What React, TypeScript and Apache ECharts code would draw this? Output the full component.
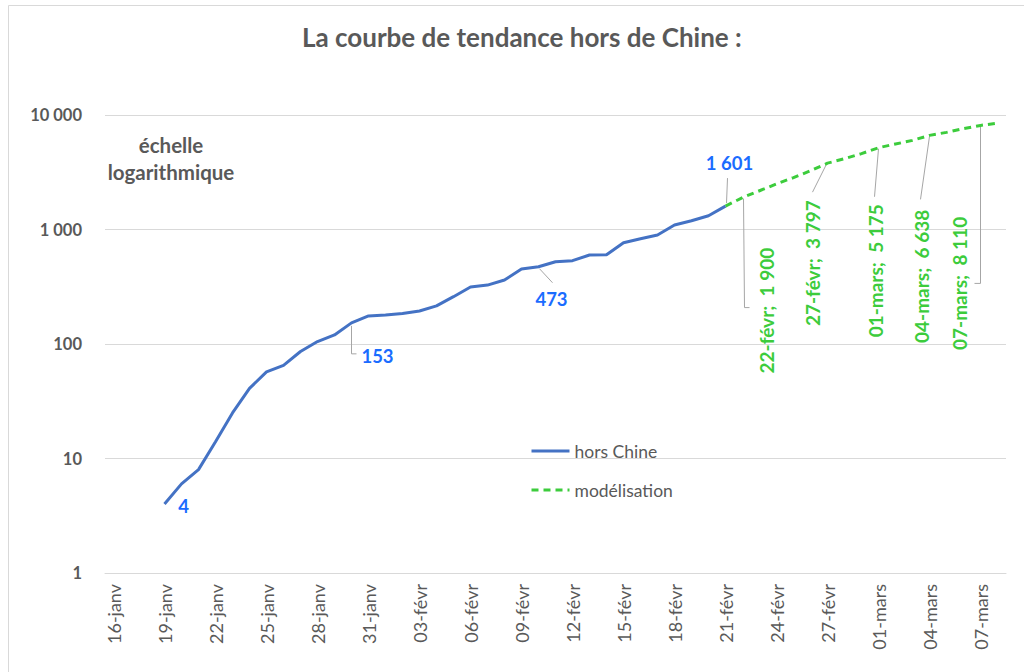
import React, { useEffect, useRef } from "react";
import * as echarts from "echarts";

const categories = [
  "16-janv", "17-janv", "18-janv", "19-janv", "20-janv", "21-janv", "22-janv", "23-janv",
  "24-janv", "25-janv", "26-janv", "27-janv", "28-janv", "29-janv", "30-janv", "31-janv",
  "01-févr", "02-févr", "03-févr", "04-févr", "05-févr", "06-févr", "07-févr", "08-févr",
  "09-févr", "10-févr", "11-févr", "12-févr", "13-févr", "14-févr", "15-févr", "16-févr",
  "17-févr", "18-févr", "19-févr", "20-févr", "21-févr", "22-févr", "23-févr", "24-févr",
  "25-févr", "26-févr", "27-févr", "28-févr", "29-févr", "01-mars", "02-mars", "03-mars",
  "04-mars", "05-mars", "06-mars", "07-mars", "08-mars",
];

// hors Chine (observed) 16-janv .. 08-mars
const horsChine: (number | null)[] = [
  null, null, null,
  4, 6, 8, 14, 25, 41, 57, 65, 86, 105, 120, 153, 176,
  179, 185, 194, 215, 259, 315, 327, 362, 452, 473, 523, 534, 599, 601, 767, 831, 896, 1094, 1193, 1320, 1601,
  null, null, null, null, null, null, null, null, null, null, null, null, null, null, null, null,
];

// modélisation 16-janv .. 08-mars
const modelisation: (number | null)[] = [
  null, null, null, null, null, null, null, null, null, null, null, null, null, null, null, null,
  null, null, null, null, null, null, null, null, null, null, null, null, null, null, null, null,
  null, null, null, null,
  1601, 1900, 2180, 2500, 2840, 3260, 3797, 4150, 4600, 5175, 5580, 6000, 6638, 7050, 7600, 8110, 8480,
];

const yTicks = [1, 10, 100, 1000, 10000];

const blueLabelDates = ["19-janv", "30-janv", "10-févr", "21-févr"];
const greenLabelDates = ["22-févr", "27-févr", "01-mars", "04-mars", "07-mars"];

const FONT = "Lato, 'Open Sans', sans-serif";
const GREY = "#595959";
const BLUE = "#4472c4";
const BLUE_LABEL = "#1a6cff";
const GREEN = "#3ccc3c";
const LEADER = "#a6a6a6";

function fmt(v: number): string {
  return String(Math.round(v)).replace(/\B(?=(\d{3})+(?!\d))/g, " ");
}

// label layout (offsets relative to the point, in px)
const blueLayout: Record<string, { dx: number; dy: number; leader: number[][] | null }> = {
  "19-janv": { dx: 19, dy: 2, leader: null },
  "30-janv": { dx: 26, dy: 33, leader: [[0, 3], [0, 31], [5, 31]] },
  "10-févr": { dx: 13, dy: 32, leader: [[1, 2], [14, 16]] },
  "21-févr": { dx: 4, dy: -43, leader: [[1, -3], [2, -28]] },
};
const greenLayout: Record<string, { dx: number; dy: number; leader: number[][] }> = {
  "22-févr": { dx: 24, dy: 113, leader: [[1, 1], [2, 110], [7, 110]] },
  "27-févr": { dx: -15, dy: 100, leader: [[-1, 1], [-15, 29]] },
  "01-mars": { dx: -3, dy: 123, leader: [[0, 1], [-4, 49]] },
  "04-mars": { dx: -8, dy: 141, leader: [[0, 1], [-9, 64]] },
  "07-mars": { dx: -21, dy: 158, leader: [[0, 1], [0, 158], [-6, 158]] },
};

export default function App() {
  const ref = useRef<HTMLDivElement>(null);

  useEffect(() => {
    if (!ref.current) return;
    const chart = echarts.init(ref.current, undefined, { renderer: "svg" });
    const option: any = {
      animation: false,
      backgroundColor: "#ffffff",
      title: {
        text: "La courbe de tendance hors de Chine :",
        left: 297,
        top: 19,
        textStyle: { fontFamily: FONT, fontSize: 26, fontWeight: "bold", color: GREY },
      },
      legend: {
        orient: "vertical",
        left: 525,
        top: 437,
        itemWidth: 38,
        itemHeight: 16,
        itemGap: 21,
        itemStyle: { opacity: 0 },
        lineStyle: { width: 3 },
        textStyle: { fontFamily: FONT, fontSize: 17.5, color: GREY },
        data: ["hors Chine", "modélisation"],
      },
      grid: { left: 105, right: 18, top: 115, bottom: 99, containLabel: false },
      xAxis: {
        type: "category",
        data: categories,
        boundaryGap: true,
        axisLine: { lineStyle: { color: "#d9d9d9", width: 1 } },
        axisTick: { interval: 2, length: 5, lineStyle: { color: "#d9d9d9" } },
        axisLabel: {
          interval: 2,
          rotate: 90,
          margin: 11,
          fontFamily: FONT,
          fontSize: 18,
          color: GREY,
        },
        splitLine: { show: false },
      },
      yAxis: {
        type: "log",
        logBase: 10,
        min: yTicks[0],
        max: yTicks[yTicks.length - 1],
        axisLine: { show: false },
        axisTick: { show: false },
        axisLabel: {
          margin: 23,
          fontFamily: FONT,
          fontSize: 16.5,
          fontWeight: "bold",
          color: GREY,
          formatter: (v: number) => fmt(v),
        },
        splitLine: { lineStyle: { color: "#d9d9d9", width: 1 } },
      },
      series: [
        {
          name: "hors Chine",
          type: "line",
          data: horsChine,
          symbol: "none",
          connectNulls: false,
          lineStyle: { color: BLUE, width: 3 },
          itemStyle: { color: BLUE },
          z: 3,
        },
        {
          name: "modélisation",
          type: "line",
          data: modelisation,
          symbol: "none",
          connectNulls: false,
          lineStyle: { color: GREEN, width: 3, type: [7, 5] },
          itemStyle: { color: GREEN },
          z: 2,
        },
      ],
    };
    chart.setOption(option);

    const graphics: any[] = [];
    graphics.push({
      type: "rect",
      shape: { x: 8.5, y: 5.5, width: 1100, height: 700 },
      style: { fill: "none", stroke: "#d9d9d9", lineWidth: 1 },
      silent: true,
      z: -1,
    });
    graphics.push({
      type: "text",
      x: 171,
      y: 158,
      style: {
        text: "échelle\nlogarithmique",
        font: `bold 20.5px ${FONT}`,
        fill: GREY,
        align: "center",
        verticalAlign: "middle",
        lineHeight: 27,
      },
    });

    const addLeader = (p: number[], pts: number[][]) => {
      graphics.push({
        type: "polyline",
        shape: { points: pts.map((q) => [p[0] + q[0], p[1] + q[1]]) },
        style: { stroke: LEADER, lineWidth: 1, fill: "none" },
        silent: true,
      });
    };

    blueLabelDates.forEach((d) => {
      const idx = categories.indexOf(d);
      const v = horsChine[idx] as number;
      const p = chart.convertToPixel({ gridIndex: 0 }, [idx, v]) as number[];
      const lay = blueLayout[d];
      if (lay.leader) addLeader(p, lay.leader);
      graphics.push({
        type: "text",
        x: p[0] + lay.dx,
        y: p[1] + lay.dy,
        style: {
          text: fmt(v),
          font: `bold 18.5px ${FONT}`,
          fill: BLUE_LABEL,
          align: "center",
          verticalAlign: "middle",
        },
      });
    });

    greenLabelDates.forEach((d) => {
      const idx = categories.indexOf(d);
      const v = modelisation[idx] as number;
      const p = chart.convertToPixel({ gridIndex: 0 }, [idx, v]) as number[];
      const lay = greenLayout[d];
      addLeader(p, lay.leader);
      graphics.push({
        type: "text",
        x: p[0] + lay.dx,
        y: p[1] + lay.dy,
        rotation: Math.PI / 2,
        style: {
          text: `${d};  ${fmt(v)}`,
          font: `bold 19px ${FONT}`,
          fill: GREEN,
          align: "center",
          verticalAlign: "middle",
        },
      });
    });

    chart.setOption({ graphic: graphics });

    return () => chart.dispose();
  }, []);

  return (
    <div
      ref={ref}
      style={{ position: "fixed", left: 0, top: 0, width: 1024, height: 672 }}
    />
  );
}
